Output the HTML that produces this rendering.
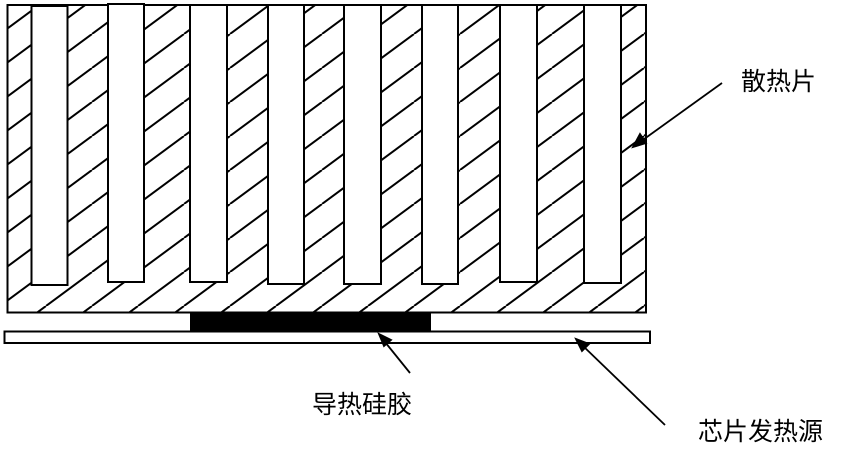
<!DOCTYPE html>
<html><head><meta charset="utf-8"><style>
html,body{margin:0;padding:0;background:#fff;width:857px;height:454px;overflow:hidden}
svg{display:block}
text{font-family:"Liberation Sans","Noto Sans CJK SC",sans-serif;fill:#000}
</style></head><body>
<svg width="857" height="454" viewBox="0 0 857 454" xmlns="http://www.w3.org/2000/svg">
<defs>
<pattern id="h" patternUnits="userSpaceOnUse" width="46" height="34">
<line x1="0" y1="34" x2="46" y2="0" stroke="#000" stroke-width="2"/>
<line x1="-46" y1="34" x2="0" y2="0" stroke="#000" stroke-width="2"/>
<line x1="46" y1="34" x2="92" y2="0" stroke="#000" stroke-width="2"/>
</pattern>
</defs>
<rect x="7.5" y="5" width="638.5" height="307.5" fill="url(#h)" stroke="#000" stroke-width="2"/>
<g fill="#fff" stroke="#000" stroke-width="2">
<rect x="31.5" y="6" width="36" height="279"/>
<rect x="108" y="4" width="36" height="278"/>
<rect x="190" y="5" width="37" height="277"/>
<rect x="268" y="5" width="36" height="279"/>
<rect x="344" y="5" width="37" height="279"/>
<rect x="422" y="5" width="36" height="279"/>
<rect x="500" y="5" width="37" height="277"/>
<rect x="584" y="5" width="37" height="278"/>
</g>
<rect x="190" y="312" width="241" height="19" fill="#000"/>
<rect x="4.5" y="331.5" width="645.5" height="11.5" fill="#fff" stroke="#000" stroke-width="2"/>
<g stroke="#000" stroke-width="1.8" fill="#000">
<line x1="722" y1="83" x2="640" y2="142"/>
<polygon points="633,147 640,134 646,143"/>
<line x1="410" y1="373" x2="385" y2="342"/>
<polygon points="379,334 391,340 384,346"/>
<line x1="665" y1="425" x2="582" y2="345"/>
<polygon points="576,339 589,344 582,351"/>
</g>
<text x="741" y="90" font-size="25">散热片</text>
<text x="312" y="413" font-size="25">导热硅胶</text>
<text x="698" y="440" font-size="25">芯片发热源</text>
</svg>
</body></html>
